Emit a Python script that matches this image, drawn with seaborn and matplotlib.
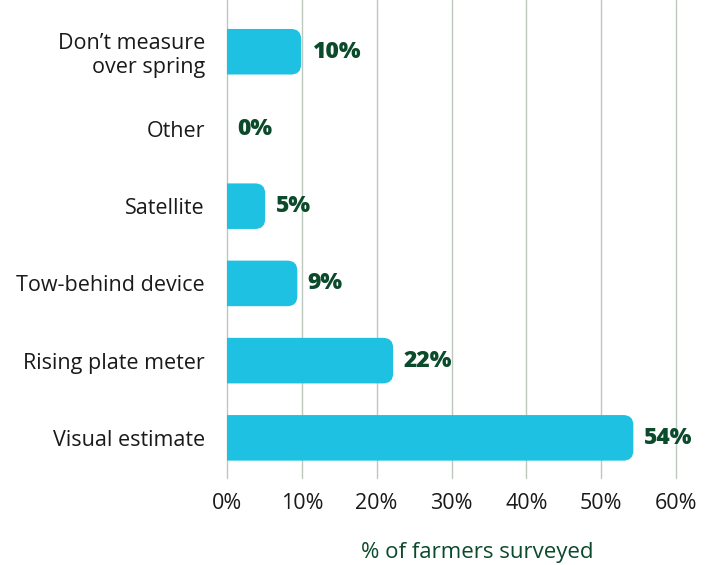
import matplotlib
matplotlib.use("Agg")
import matplotlib.pyplot as plt
import seaborn as sns
import pandas as pd
from matplotlib.patches import FancyBboxPatch

categories = ["Don\u2019t measure\nover spring", "Other", "Satellite",
              "Tow-behind device", "Rising plate meter", "Visual estimate"]
values = [9.9, 0.0, 5.1, 9.4, 22.2, 54.3]
value_labels = ["10%", "0%", "5%", "9%", "22%", "54%"]
xticks = [0, 10, 20, 30, 40, 50, 60]
xtick_labels = ["0%", "10%", "20%", "30%", "40%", "50%", "60%"]

sns.set_theme(style="white")
plt.rcParams["font.family"] = ["Open Sans", "DejaVu Sans"]

df = pd.DataFrame({"method": categories, "pct": values})

fig = plt.figure(figsize=(7.12, 5.65), dpi=100)
ax = fig.add_axes([227/712, 1-478/565, (676-227)/712, 478/565])

BAR = "#1FC1E2"
GREEN = "#0B4A2B"

sns.barplot(data=df, x="pct", y="method", color=BAR, width=0.59, ax=ax,
            saturation=1, orient="h")

ax.set_xlim(0, 60)
ax.set_ylim(5.5 + 0.02, -0.67)

# replace bars by right-rounded boxes
px_per_x = (676 - 227) / 60
px_per_y = 77
r_px = 10
rx = r_px / px_per_x
aspect = (r_px / px_per_y) / rx
for p in list(ax.patches):
    x0, y0 = p.get_x(), p.get_y()
    w, h = p.get_width(), p.get_height()
    p.set_visible(False)
    fb = FancyBboxPatch((x0 - 3, y0), w + 3, h,
                        boxstyle=f"round,pad=0,rounding_size={rx}",
                        mutation_aspect=aspect, facecolor=BAR,
                        edgecolor="none", zorder=3)
    ax.add_patch(fb)
    fb.set_clip_path(ax.patch)

for i, (v, lab) in enumerate(zip(values, value_labels)):
    ax.text(v + 1.4, i, lab, va="center", ha="left", fontsize=16.5,
            fontweight="heavy", color=GREEN, zorder=4)

ax.set_xticks(xticks)
ax.set_xticklabels(xtick_labels)
ax.grid(axis="x", color="#BCC8BE", linewidth=1.0, zorder=0)
for gl in ax.get_xgridlines():
    gl.set_clip_on(False)
ax.set_axisbelow(True)
for s in ax.spines.values():
    s.set_visible(False)
ax.tick_params(axis="both", length=0, labelsize=15.5, colors="#1A1A1A")
ax.tick_params(axis="x", pad=11)
ax.tick_params(axis="y", pad=16)
for t in ax.get_yticklabels():
    t.set_horizontalalignment("right")
    t.set_multialignment("right")
ax.set_ylabel("")
ax.set_xlabel("% of farmers surveyed", fontsize=16, color=GREEN)
ax.xaxis.set_label_coords((477 - 227) / (676 - 227), -0.133)

fig.savefig("out.png", dpi=100)
